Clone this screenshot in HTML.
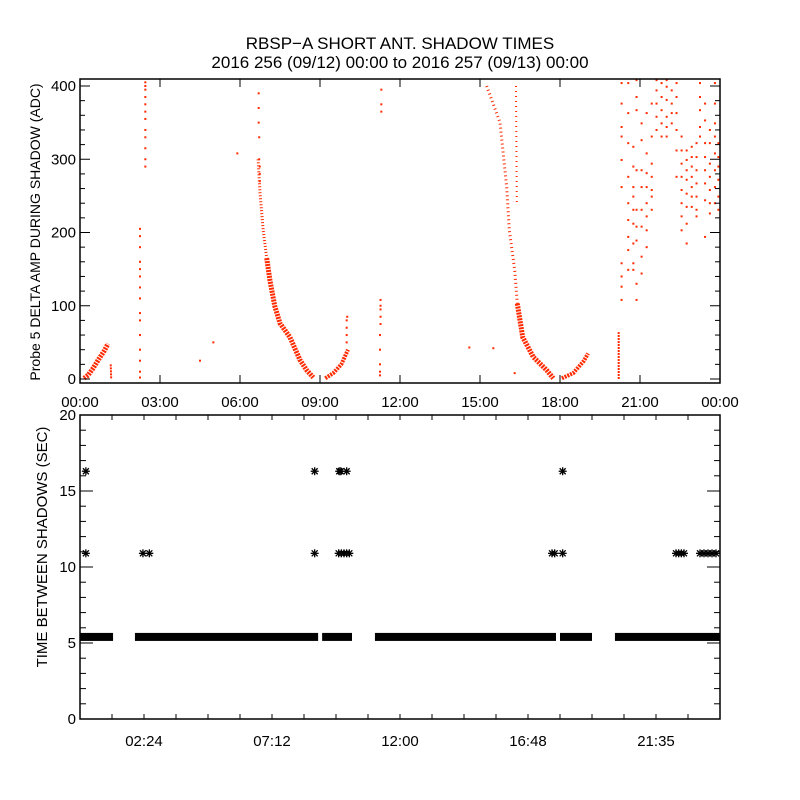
<!DOCTYPE html>
<html><head><meta charset="utf-8"><style>
html,body{margin:0;padding:0;background:#fff;}
svg{display:block;font-family:"Liberation Sans",sans-serif;}
</style></head><body>
<svg id="c" width="800" height="800" xmlns="http://www.w3.org/2000/svg">
<rect width="800" height="800" fill="#fff"/>
<text x="400" y="49" font-size="17" text-anchor="middle">RBSP−A SHORT ANT. SHADOW TIMES</text>
<text x="400" y="68" font-size="17" text-anchor="middle">2016 256 (09/12) 00:00 to 2016 257 (09/13) 00:00</text>
<text transform="translate(40,232) rotate(-90)" font-size="14" text-anchor="middle">Probe 5 DELTA AMP DURING SHADOW (ADC)</text>
<text transform="translate(47,547) rotate(-90)" font-size="15" text-anchor="middle">TIME BETWEEN SHADOWS (SEC)</text>
<g id="topPanel"></g>
<g id="botPanel"></g>
</svg>
<script>
// ---- top panel data (hours, ADC) ----
const topXTickLabels = ["00:00","03:00","06:00","09:00","12:00","15:00","18:00","21:00","00:00"];
const topYTickLabels = [0,100,200,300,400];
const band1H = [0.15,0.3,0.5,0.7,0.9,1.05];
const band1V = [1,5,15,27,38,48];
const spike1H = [1.15,1.17];
const spike1V = [20,0];
const decay1H = [6.68,6.75,6.87,7.0,7.12,7.3,7.5,7.87,8.25,8.5,8.75];
const decay1V = [300,254,203,165,135,100,76,57,26,12,2];
const rise1H = [9.2,9.5,9.8,10.05];
const rise1V = [1,8,20,40];
const decay2H = [15.25,15.75,16.0,16.1,16.3,16.4,16.6,17.0,17.5,17.75];
const decay2V = [400,350,262,203,149,103,57,30,12,1];
const streak2H = [16.35,16.38];
const streak2V = [400,240];
const rise2H = [18.07,18.5,18.9,19.05];
const rise2V = [1,8,25,35];
const spike3H = [20.2,20.2];
const spike3V = [0,64];
const scatH = [2.25,2.25,2.25,2.25,2.25,2.25,2.25,2.25,2.25,2.25,2.25,2.25,2.25,2.25,2.25,
 2.45,2.45,2.45,2.45,2.45,2.45,2.45,2.45,2.45,2.45,2.45,2.45,
 4.5,5.0,5.9,6.7,6.7,6.7,6.72,6.72,6.74,6.74,6.74,
 10.0,10.0,10.0,10.0,10.02,
 11.25,11.25,11.25,11.25,11.25,11.27,11.27,11.27,11.27,11.27,11.3,11.3,11.3,
 14.6,15.5,16.3,
 20.31,20.31,20.31,20.31,20.31,20.31,20.31,20.31,20.31,20.31,
 20.56,20.56,20.56,20.56,20.56,20.56,20.56,20.56,20.56,
 20.75,20.75,20.75,20.75,20.75,20.75,20.75,20.75,20.75,
 20.87,20.87,20.87,20.87,20.87,20.87,20.87,20.87,20.87,
 21.06,21.06,21.06,21.06,21.06,21.06,21.06,21.06,
 21.25,21.25,21.25,21.25,21.25,21.25,21.25,21.25,
 21.44,21.44,21.44,21.44,21.44,21.44,21.44,
 21.62,21.62,21.62,21.62,21.62,
 21.81,21.81,21.81,21.81,21.81,
 22.0,22.0,22.0,22.0,22.0,22.0,
 22.19,22.19,22.19,22.19,
 22.37,22.37,22.37,22.37,22.37,22.37,
 22.56,22.56,22.56,22.56,22.56,22.56,22.56,22.56,
 22.75,22.75,22.75,22.75,22.75,22.75,22.75,22.75,
 22.94,22.94,22.94,22.94,22.94,22.94,22.94,
 23.12,23.12,23.12,23.12,23.12,23.12,23.12,
 23.25,23.25,23.25,23.25,23.25,
 23.44,23.44,23.44,23.44,23.44,23.44,23.44,23.44,
 23.62,23.62,23.62,23.62,23.62,23.62,23.62,
 23.81,23.81,23.81,23.81,23.81,23.81,23.81,23.81,
 23.94,23.94,23.94,23.94,23.94,23.94];
const scatV = [2,10,25,40,60,80,90,110,125,140,150,160,180,195,205,
 290,300,315,330,340,355,365,375,385,395,400,405,
 25,50,308,390,370,350,330,300,290,280,270,
 50,60,70,80,85,
 5,10,20,40,60,75,85,95,100,108,365,375,395,
 43,42,8,
 404,376,344,331,299,262,158,140,126,108,
 404,363,322,276,240,217,194,176,149,
 317,290,262,249,231,212,185,158,149,
 408,385,367,285,231,208,189,130,108,
 349,326,285,262,231,208,167,144,
 363,308,281,262,240,222,203,180,
 376,331,294,276,258,249,231,
 408,394,376,358,340,
 404,385,367,349,331,
 408,399,381,358,344,331,
 394,376,363,349,
 404,385,363,340,312,276,
 331,312,294,276,258,240,222,203,
 312,299,285,272,253,235,212,185,
 317,303,290,276,262,249,235,
 322,303,285,267,249,231,222,
 404,385,367,344,331,
 376,353,322,303,285,267,244,194,
 340,322,294,276,258,240,226,
 404,376,349,331,308,285,262,240,
 322,303,290,272,249,231];
// ---- bottom panel data ----
const botXTickLabels = ["02:24","07:12","12:00","16:48","21:35"];
const botYTickLabels = [0,5,10,15,20];
const runStart = [0.0,2.06,9.08,11.06,18.0,20.06];
const runEnd   = [1.24,8.93,10.2,17.85,19.2,24.0];
const runValue = 5.4;
const starH = [0.22,8.8,9.72,9.78,10.0,18.1,
 0.22,2.36,2.6,8.8,9.7,9.8,9.9,10.0,10.1,17.7,17.8,18.1,22.35,22.45,22.55,22.65,23.25,23.4,23.55,23.7,23.85];
const starV = [16.3,16.3,16.3,16.3,16.3,16.3,
 10.9,10.9,10.9,10.9,10.9,10.9,10.9,10.9,10.9,10.9,10.9,10.9,10.9,10.9,10.9,10.9,10.9,10.9,10.9,10.9,10.9];

const NS="http://www.w3.org/2000/svg";
function mk(parent,tag,attrs){const e=document.createElementNS(NS,tag);for(const k in attrs)e.setAttribute(k,attrs[k]);parent.appendChild(e);return e;}
const X0=80,X1=720;
const xs=h=>X0+h/24*(X1-X0);
const T0=379,T400=86;
const yt=v=>T0+(T400-T0)*v/400;
const B0=719,B20=415;
const yb=v=>B0+(B20-B0)*v/20;

const topG=document.getElementById('topPanel');
const botG=document.getElementById('botPanel');
const RED="#ff2a00";

function band(H,V,w,dash,name){
  const pts=H.map((h,i)=>xs(h).toFixed(1)+","+yt(V[i]).toFixed(1)).join(" ");
  const p=mk(topG,'polyline',{points:pts,fill:'none',stroke:RED,'stroke-width':w,'stroke-dasharray':dash});
  
  
}
band(band1H,band1V,5,"2 1","band-early-rise");
band(spike1H,spike1V,2,"2 1","spike-early");
band(decay1H.slice(0,4),decay1V.slice(0,4),3,"1 2","decay1-upper");
band(decay1H.slice(3),decay1V.slice(3),5,"2 1","decay1-lower");
band(rise1H,rise1V,4,"2 1","rise1");
band(decay2H.slice(0,6),decay2V.slice(0,6),3,"1 3","decay2-upper");
band(decay2H.slice(5),decay2V.slice(5),5,"2 1","decay2-lower");
band(streak2H,streak2V,2,"1 4","streak2");
band(rise2H,rise2V,4,"2 1","rise2");
band(spike3H,spike3V,2,"2 1","spike3");
scatH.forEach((h,i)=>{
  const r=mk(topG,'rect',{x:xs(h)-1,y:yt(scatV[i])-1,width:2,height:2,fill:RED});
  
  
});
const f1=mk(topG,'rect',{x:X0,y:79,width:X1-X0,height:304,fill:'none',stroke:'#000','stroke-width':1.5});


topXTickLabels.forEach((l,i)=>{
  const x=X0+i*(X1-X0)/8;
  mk(topG,'line',{x1:x,x2:x,y1:383,y2:375,stroke:'#000'});
  mk(topG,'line',{x1:x,x2:x,y1:79,y2:87,stroke:'#000'});
  const t=mk(topG,'text',{x:x,y:407,'font-size':15,'text-anchor':'middle'});
  t.textContent=l;
  
  
});
for(let v=0;v<=400;v+=20){
  const len=v%100===0?10:5;
  mk(topG,'line',{x1:X0,x2:X0+len,y1:yt(v),y2:yt(v),stroke:'#000'});
  mk(topG,'line',{x1:X1,x2:X1-len,y1:yt(v),y2:yt(v),stroke:'#000'});
}
topYTickLabels.forEach(v=>{
  const t=mk(topG,'text',{x:76,y:yt(v)+5,'font-size':15,'text-anchor':'end'});
  t.textContent=v;
  
  
});

runStart.forEach((s,i)=>{
  const r=mk(botG,'rect',{x:xs(s),y:yb(runValue)-4,width:xs(runEnd[i])-xs(s),height:8,fill:'#000'});
  
  
});
starH.forEach((h,i)=>{
  const cx=xs(h),cy=yb(starV[i]);
  const g=mk(botG,'g',{stroke:'#000','stroke-width':1.3});
  
  
  mk(g,'line',{x1:cx-4,x2:cx+4,y1:cy,y2:cy});
  mk(g,'line',{x1:cx,x2:cx,y1:cy-4,y2:cy+4});
  mk(g,'line',{x1:cx-3,x2:cx+3,y1:cy-3,y2:cy+3});
  mk(g,'line',{x1:cx-3,x2:cx+3,y1:cy+3,y2:cy-3});
});
const f2=mk(botG,'rect',{x:X0,y:B20,width:X1-X0,height:B0-B20,fill:'none',stroke:'#000','stroke-width':1.5});


for(let k=1;k<20;k++){
  const x=X0+k*32;
  mk(botG,'line',{x1:x,x2:x,y1:B0,y2:B0-5,stroke:'#000'});
  mk(botG,'line',{x1:x,x2:x,y1:B20,y2:B20+5,stroke:'#000'});
}
botXTickLabels.forEach((l,i)=>{
  const x=X0+64+i*128;
  const t=mk(botG,'text',{x:x,y:746,'font-size':15,'text-anchor':'middle'});
  t.textContent=l;
  
  
});
for(let v=0;v<=20;v++){
  const len=v%5===0?13:6;
  mk(botG,'line',{x1:X0,x2:X0+len,y1:yb(v),y2:yb(v),stroke:'#000'});
  mk(botG,'line',{x1:X1,x2:X1-len,y1:yb(v),y2:yb(v),stroke:'#000'});
}
botYTickLabels.forEach(v=>{
  const t=mk(botG,'text',{x:76,y:yb(v)+5,'font-size':15,'text-anchor':'end'});
  t.textContent=v;
  
  
});
</script>
</body></html>
